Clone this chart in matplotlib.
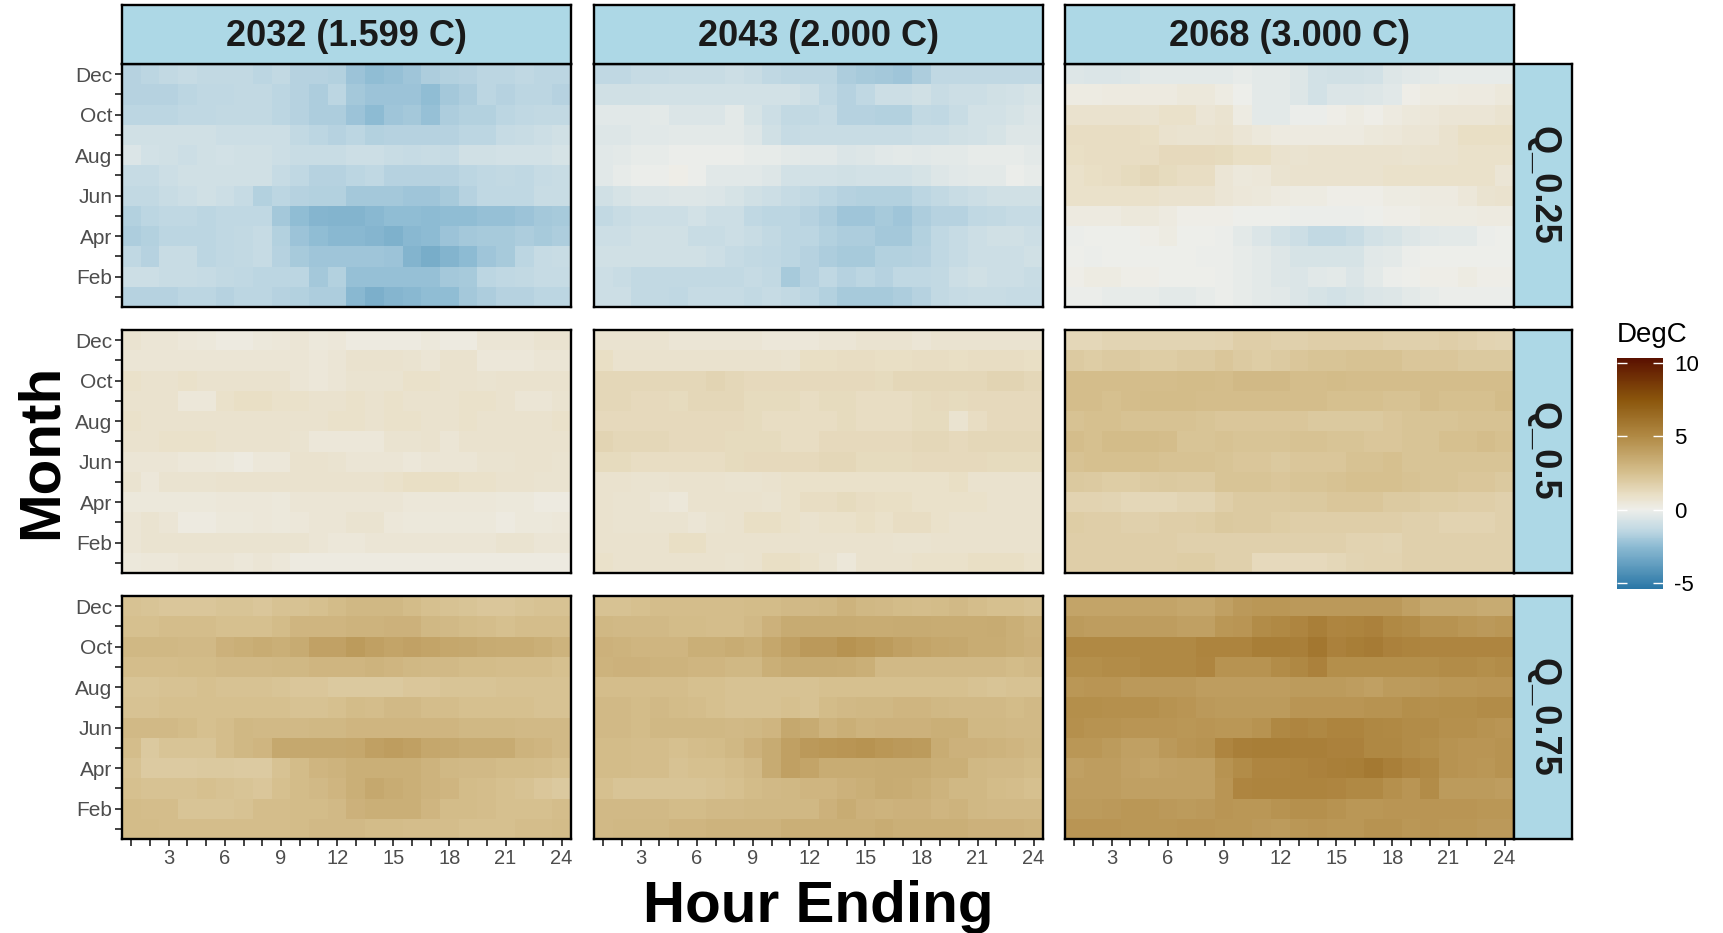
import matplotlib
matplotlib.use("Agg")
import matplotlib.pyplot as plt
import numpy as np
from matplotlib.colors import LinearSegmentedColormap, Normalize
from matplotlib.colorbar import ColorbarBase

plt.rcParams['font.family'] = ['Liberation Sans', 'DejaVu Sans']
plt.rcParams['axes.unicode_minus'] = False

# ---------------- data ----------------
years = ["2032 (1.599 C)", "2043 (2.000 C)", "2068 (3.000 C)"]
quantiles = ["Q_0.25", "Q_0.5", "Q_0.75"]
hours = list(range(1, 25))
months_top_down = [12, 11, 10, 9, 8, 7, 6, 5, 4, 3, 2, 1]
month_ticks = list(range(1, 13))
month_labels = ["", "Feb", "", "Apr", "", "Jun", "", "Aug", "", "Oct", "", "Dec"]
hour_labels = [str(h) if h % 3 == 0 else "" for h in hours]
cbar_ticks = [-5, 0, 5, 10]
cbar_limits = (-5.4, 10.35)

# rows: Dec ... Jan (top to bottom), columns: hour 1..24
q25_2032 = [
    [-1.6,-1.5,-1.3,-1.2,-1.3,-1.3,-1.3,-1.5,-1.3,-1.6,-1.6,-1.7,-2.2,-2.4,-2.3,-2.1,-1.8,-1.7,-1.6,-1.5,-1.5,-1.4,-1.5,-1.5],
    [-1.6,-1.6,-1.6,-1.5,-1.4,-1.4,-1.3,-1.3,-1.5,-1.6,-1.8,-1.5,-2.0,-2.2,-2.2,-2.2,-2.4,-2.0,-1.8,-1.5,-1.6,-1.5,-1.5,-1.6],
    [-1.5,-1.5,-1.5,-1.4,-1.4,-1.3,-1.3,-1.3,-1.5,-1.6,-1.8,-1.8,-2.2,-2.5,-2.1,-2.0,-2.3,-1.8,-1.7,-1.7,-1.5,-1.4,-1.3,-1.3],
    [-0.9,-0.9,-0.9,-0.9,-0.9,-1.0,-1.0,-1.0,-1.0,-1.3,-1.5,-1.6,-1.5,-1.7,-1.6,-1.6,-1.6,-1.6,-1.5,-1.5,-1.2,-1.1,-1.0,-0.9],
    [-0.6,-0.8,-0.9,-1.0,-0.9,-0.8,-0.9,-0.9,-1.0,-1.1,-1.1,-1.1,-1.0,-1.0,-1.1,-1.2,-1.1,-1.2,-0.9,-0.9,-0.8,-0.8,-0.8,-0.7],
    [-1.2,-1.2,-1.0,-0.9,-0.9,-0.9,-0.9,-0.9,-1.2,-1.4,-1.6,-1.6,-1.5,-1.4,-1.6,-1.6,-1.6,-1.6,-1.5,-1.4,-1.3,-1.4,-1.2,-1.1],
    [-1.3,-1.3,-1.1,-1.0,-0.9,-1.0,-1.2,-1.7,-1.5,-1.6,-1.7,-1.7,-2.0,-2.0,-2.0,-2.1,-2.1,-1.9,-1.6,-1.4,-1.4,-1.4,-1.1,-1.1],
    [-1.7,-1.5,-1.4,-1.4,-1.5,-1.4,-1.4,-1.4,-2.0,-2.4,-2.7,-2.8,-2.8,-2.6,-2.4,-2.4,-2.5,-2.4,-2.4,-2.3,-2.3,-2.2,-2.0,-1.9],
    [-1.8,-1.7,-1.5,-1.5,-1.5,-1.4,-1.3,-1.2,-1.7,-2.2,-2.4,-2.6,-2.6,-2.7,-2.9,-2.6,-2.5,-2.2,-2.0,-1.9,-1.9,-1.8,-1.9,-1.8],
    [-1.4,-1.6,-1.1,-1.1,-1.5,-1.4,-1.3,-1.2,-1.6,-1.9,-2.1,-2.1,-2.1,-2.1,-2.2,-2.8,-3.1,-2.8,-2.5,-2.1,-1.9,-1.5,-1.2,-1.1],
    [-1.0,-1.0,-1.1,-1.1,-1.2,-1.3,-1.4,-1.5,-1.5,-1.5,-2.0,-1.7,-2.3,-2.3,-2.3,-2.3,-2.3,-2.0,-1.9,-1.5,-1.4,-1.3,-1.2,-1.2],
    [-1.6,-1.6,-1.6,-1.5,-1.5,-1.6,-1.5,-1.5,-1.6,-1.7,-1.8,-1.8,-2.6,-3.0,-2.7,-2.6,-2.4,-2.4,-2.0,-1.8,-1.6,-1.6,-1.5,-1.5],
]
q25_2043 = [
    [-1.4,-1.4,-1.2,-1.2,-1.1,-1.1,-1.1,-1.0,-1.1,-1.4,-1.5,-1.5,-1.5,-1.8,-1.9,-2.0,-2.1,-1.8,-1.4,-1.4,-1.4,-1.4,-1.4,-1.4],
    [-0.9,-0.9,-0.9,-0.8,-0.8,-0.8,-0.8,-0.8,-0.8,-0.8,-0.8,-1.0,-1.4,-1.6,-1.4,-1.0,-1.0,-0.9,-1.1,-1.0,-1.0,-0.9,-0.8,-0.7],
    [-0.4,-0.4,-0.4,-0.3,-0.6,-0.6,-0.6,-0.3,-0.7,-1.0,-1.3,-1.3,-1.2,-1.6,-1.6,-1.7,-1.7,-1.3,-1.4,-1.1,-0.8,-0.8,-0.7,-0.6],
    [-0.5,-0.5,-0.4,-0.4,-0.3,-0.3,-0.3,-0.3,-0.5,-0.9,-1.2,-1.1,-1.1,-1.1,-1.1,-1.1,-1.1,-1.0,-1.0,-0.9,-0.8,-0.7,-0.5,-0.5],
    [-0.4,-0.3,-0.2,-0.2,-0.1,-0.1,-0.1,-0.1,-0.2,-0.2,-0.3,-0.4,-0.4,-0.6,-0.5,-0.4,-0.3,-0.4,-0.3,-0.3,-0.2,-0.2,-0.2,-0.3],
    [-0.4,-0.2,-0.1,-0.1,0.1,-0.1,-0.4,-0.4,-0.4,-0.5,-0.8,-0.8,-0.8,-0.9,-0.8,-0.8,-0.8,-0.7,-0.5,-0.4,-0.3,-0.3,-0.1,-0.2],
    [-0.9,-0.7,-0.6,-0.6,-0.5,-0.5,-0.6,-0.7,-0.9,-1.0,-1.2,-1.3,-1.5,-1.6,-1.7,-1.7,-1.7,-1.5,-1.3,-1.1,-1.0,-0.9,-0.9,-0.9],
    [-1.3,-1.1,-1.0,-1.0,-1.0,-0.8,-1.0,-1.0,-1.4,-1.5,-1.5,-1.6,-1.8,-2.1,-2.1,-1.9,-2.1,-1.8,-1.6,-1.6,-1.4,-1.3,-1.2,-1.2],
    [-1.0,-1.0,-0.9,-0.9,-0.9,-1.1,-1.1,-1.0,-1.1,-1.3,-1.5,-1.5,-1.7,-1.8,-1.8,-2.0,-2.0,-1.7,-1.4,-1.2,-1.0,-0.9,-0.9,-1.0],
    [-0.9,-0.9,-0.9,-0.9,-0.9,-0.9,-1.0,-1.2,-1.3,-1.4,-1.5,-1.6,-1.8,-1.9,-1.9,-1.7,-1.7,-1.6,-1.4,-1.2,-1.0,-1.0,-1.0,-0.9],
    [-1.0,-1.1,-1.3,-1.3,-1.3,-1.3,-1.3,-1.3,-1.2,-1.3,-1.9,-1.6,-1.4,-1.6,-1.5,-1.6,-1.4,-1.4,-1.3,-1.0,-0.9,-1.0,-1.0,-1.1],
    [-1.0,-1.0,-1.3,-1.3,-1.4,-1.2,-1.2,-1.2,-1.3,-1.2,-1.3,-1.5,-1.7,-1.9,-1.9,-1.9,-1.8,-1.6,-1.3,-1.2,-1.1,-1.1,-1.2,-1.2],
]
q25_2068 = [
    [-0.5,-0.6,-0.6,-0.5,-0.3,-0.3,-0.3,-0.3,-0.3,-0.2,-0.3,-0.3,-0.5,-0.8,-0.9,-0.9,-0.8,-0.5,-0.4,-0.3,-0.2,-0.2,-0.2,-0.2],
    [0.2,0.2,0.3,0.3,0.3,0.3,0.4,0.4,0.2,0.0,-0.3,-0.3,-0.5,-0.8,-0.6,-0.6,-0.5,-0.4,0.1,0.2,0.2,0.3,0.3,0.4],
    [0.8,0.8,0.8,0.8,0.7,0.9,0.9,0.6,0.7,0.2,-0.3,-0.3,-0.1,-0.1,0.1,0.2,0.1,0.3,0.4,0.5,0.6,0.6,0.6,0.7],
    [1.1,1.1,1.1,1.1,1.0,0.8,0.7,0.7,0.8,0.6,0.4,0.3,0.3,0.3,0.3,0.3,0.4,0.5,0.6,0.6,0.8,1.0,1.0,1.0],
    [1.0,1.1,1.1,1.1,1.1,1.3,1.3,1.3,1.2,1.0,1.0,0.8,0.7,0.8,0.8,0.8,0.8,0.8,0.7,0.8,0.8,0.9,0.9,0.9],
    [0.9,1.0,1.1,1.2,1.4,1.2,1.1,1.1,0.6,0.4,0.5,0.7,0.8,0.8,0.8,0.8,0.8,0.9,0.9,0.9,0.9,0.9,0.9,0.6],
    [0.9,0.9,0.9,0.9,0.9,0.8,0.8,0.8,0.6,0.5,0.4,0.3,0.2,0.2,0.1,0.1,0.1,0.2,0.2,0.3,0.3,0.5,0.7,0.8],
    [0.3,0.3,0.3,0.4,0.4,0.3,0.1,0.1,0.1,0.0,0.0,0.0,-0.1,-0.1,-0.1,-0.1,0.0,0.1,0.1,0.2,0.2,0.2,0.3,0.3],
    [-0.1,0.0,0.0,0.0,0.1,0.2,0.0,0.0,-0.1,-0.3,-0.6,-0.8,-1.0,-1.3,-1.3,-1.1,-0.8,-0.7,-0.5,-0.4,-0.3,-0.3,-0.1,0.0],
    [0.0,-0.1,0.0,0.0,0.0,0.0,0.0,-0.1,-0.1,-0.2,-0.3,-0.5,-0.7,-0.7,-0.7,-0.7,-0.4,-0.3,-0.1,0.0,0.0,0.0,0.0,0.0],
    [0.1,0.2,0.2,0.1,0.1,0.0,0.0,0.0,-0.1,-0.2,-0.3,-0.5,-0.6,-0.4,-0.3,-0.6,-0.3,-0.1,0.0,0.1,0.1,0.2,0.1,0.1],
    [-0.1,-0.1,-0.2,-0.2,-0.2,-0.3,-0.3,-0.2,-0.1,-0.2,-0.3,-0.4,-0.6,-0.7,-0.8,-0.7,-0.6,-0.5,-0.3,-0.2,-0.1,-0.1,-0.1,-0.1],
]
q50_2032 = [
    [0.7,0.6,0.6,0.5,0.4,0.3,0.3,0.4,0.5,0.6,0.4,0.5,0.3,0.3,0.3,0.3,0.4,0.3,0.3,0.6,0.6,0.6,0.7,0.7],
    [0.6,0.6,0.6,0.6,0.6,0.6,0.6,0.6,0.6,0.6,0.5,0.6,0.8,0.8,0.8,0.7,0.6,0.8,0.8,0.5,0.5,0.5,0.6,0.6],
    [0.9,0.8,0.8,0.9,0.8,0.8,0.8,0.8,0.8,0.6,0.5,0.6,0.7,0.7,0.7,0.9,0.9,0.8,0.8,0.7,0.8,0.8,0.8,0.8],
    [0.8,0.8,0.8,0.5,0.5,0.9,1.0,1.0,0.9,0.9,0.8,0.8,0.9,0.8,0.9,0.8,0.8,0.8,0.9,0.9,0.8,0.6,0.6,0.7],
    [0.9,0.8,0.8,0.8,0.8,0.8,0.8,0.8,0.8,0.8,0.8,0.9,0.9,0.8,0.9,0.9,0.8,0.8,0.9,0.8,0.8,0.8,0.8,0.9],
    [0.8,0.8,0.9,0.9,0.9,0.8,0.8,0.8,0.8,0.7,0.5,0.5,0.5,0.5,0.7,0.7,0.8,0.6,0.8,0.8,0.8,0.8,0.8,0.8],
    [0.6,0.6,0.6,0.5,0.5,0.4,0.3,0.5,0.5,0.8,0.8,0.7,0.6,0.6,0.6,0.5,0.6,0.6,0.6,0.7,0.7,0.8,0.8,0.7],
    [0.7,0.5,0.7,0.7,0.7,0.8,0.8,0.8,0.8,0.8,0.8,0.8,0.8,0.8,0.9,1.0,1.0,1.0,0.9,0.9,0.8,0.8,0.7,0.7],
    [0.4,0.4,0.4,0.4,0.4,0.5,0.5,0.5,0.4,0.6,0.6,0.6,0.6,0.6,0.6,0.5,0.5,0.5,0.5,0.5,0.4,0.4,0.3,0.3],
    [0.6,0.7,0.6,0.3,0.3,0.4,0.4,0.5,0.4,0.5,0.6,0.6,0.7,0.7,0.5,0.4,0.4,0.4,0.4,0.4,0.3,0.4,0.4,0.5],
    [0.6,0.7,0.7,0.7,0.7,0.7,0.7,0.7,0.7,0.7,0.6,0.5,0.5,0.6,0.6,0.6,0.6,0.6,0.6,0.6,0.7,0.7,0.6,0.6],
    [0.4,0.5,0.5,0.6,0.6,0.6,0.5,0.6,0.5,0.3,0.3,0.3,0.3,0.3,0.3,0.3,0.3,0.3,0.3,0.3,0.3,0.3,0.3,0.3],
]
q50_2043 = [
    [0.7,0.7,0.7,0.7,0.6,0.6,0.6,0.6,0.6,0.5,0.5,0.5,0.6,0.6,0.7,0.7,0.7,0.6,0.7,0.7,0.7,0.7,0.7,0.7],
    [1.0,0.8,0.8,0.8,0.8,0.8,0.8,0.8,0.8,0.8,0.7,1.0,1.0,1.1,1.1,1.0,1.0,1.1,1.1,1.0,1.1,1.1,1.1,1.0],
    [1.4,1.4,1.4,1.4,1.4,1.4,1.5,1.4,1.3,1.3,1.3,1.3,1.3,1.3,1.3,1.2,1.4,1.4,1.4,1.4,1.4,1.5,1.5,1.4],
    [1.4,1.4,1.3,1.3,1.2,1.4,1.4,1.4,1.2,1.2,1.2,1.1,1.2,1.2,1.1,1.1,1.1,1.2,1.3,1.2,1.3,1.3,1.3,1.3],
    [1.3,1.3,1.3,1.3,1.3,1.3,1.3,1.3,1.2,1.1,1.1,1.1,1.1,1.2,1.1,1.1,1.1,1.2,1.2,0.7,1.1,1.3,1.3,1.3],
    [1.5,1.4,1.4,1.4,1.3,1.3,1.3,1.2,1.2,1.2,1.1,1.1,1.3,1.3,1.3,1.3,1.3,1.4,1.4,1.3,1.4,1.4,1.4,1.4],
    [1.2,1.2,1.1,1.1,1.1,1.1,1.1,1.2,1.3,1.3,1.3,1.3,1.4,1.4,1.2,1.2,1.2,1.3,1.3,1.3,1.3,1.2,1.2,1.2],
    [0.8,0.8,0.7,0.7,0.8,0.8,0.8,0.7,0.7,0.8,0.9,0.9,0.9,0.9,0.9,0.9,0.9,0.9,0.9,1.0,0.8,0.8,0.8,0.8],
    [0.8,0.7,0.7,0.6,0.5,0.8,0.8,0.8,0.8,0.7,0.9,1.1,1.1,1.2,1.1,1.0,1.0,0.9,0.9,0.9,0.9,0.8,0.8,0.8],
    [0.8,0.7,0.7,0.7,0.7,0.6,0.7,0.8,1.0,1.0,0.9,0.8,0.9,0.9,1.0,0.9,1.1,1.1,0.9,0.8,0.8,0.8,0.8,0.8],
    [0.8,0.8,0.8,0.8,1.0,1.0,0.8,0.8,0.8,0.8,0.8,0.8,0.8,0.8,0.8,0.8,0.7,0.7,0.8,0.8,0.8,0.8,0.8,0.8],
    [0.9,0.8,0.8,0.8,0.8,0.8,0.8,0.7,0.8,1.0,1.0,0.9,0.7,0.5,0.8,0.8,0.8,0.9,0.9,0.9,1.0,1.0,1.0,0.9],
]
q50_2068 = [
    [1.4,1.4,1.5,1.5,1.5,1.5,1.5,1.5,1.6,1.8,1.8,1.7,1.7,1.8,1.8,1.8,1.8,1.7,1.7,1.7,1.8,1.7,1.6,1.5],
    [2.0,1.9,2.0,2.0,1.9,1.9,2.0,2.0,2.2,2.0,1.9,2.0,2.2,2.3,2.3,2.4,2.4,2.4,2.2,2.2,2.2,2.1,2.1,2.1],
    [2.6,2.6,2.6,2.6,2.6,2.6,2.7,2.7,2.6,2.8,2.8,2.8,2.6,2.6,2.7,2.6,2.6,2.6,2.6,2.6,2.6,2.6,2.6,2.6],
    [2.6,2.6,2.5,2.6,2.7,2.7,2.7,2.6,2.6,2.6,2.6,2.6,2.6,2.6,2.5,2.5,2.5,2.4,2.4,2.6,2.5,2.5,2.5,2.7],
    [2.4,2.5,2.5,2.4,2.4,2.4,2.4,2.3,2.2,2.2,2.2,2.2,2.2,2.1,2.1,2.1,2.1,2.2,2.3,2.3,2.3,2.4,2.4,2.4],
    [2.6,2.5,2.7,2.7,2.7,2.6,2.3,2.3,2.4,2.3,2.3,2.3,2.4,2.4,2.3,2.3,2.2,2.2,2.3,2.3,2.5,2.5,2.6,2.5],
    [2.4,2.5,2.5,2.5,2.5,2.4,2.4,2.4,2.3,2.2,2.2,2.1,2.2,2.2,2.2,2.4,2.4,2.5,2.3,2.3,2.3,2.3,2.3,2.3],
    [2.1,2.0,1.9,1.9,2.0,2.1,2.0,2.0,2.3,2.3,2.3,2.2,2.3,2.3,2.4,2.5,2.5,2.5,2.4,2.3,2.3,2.2,2.2,2.1],
    [1.6,1.6,1.5,1.4,1.4,1.4,1.5,1.5,1.8,2.0,2.0,2.0,2.1,2.1,2.2,2.2,2.2,2.0,2.0,1.9,1.9,1.8,1.8,1.7],
    [1.9,1.8,1.8,1.7,1.7,1.8,1.8,1.9,2.1,2.0,2.0,1.9,1.8,1.8,1.8,1.8,1.8,1.8,1.7,1.7,1.6,1.6,1.6,1.7],
    [1.8,1.8,1.8,1.8,1.8,1.8,1.7,1.7,1.7,1.7,1.7,1.7,1.7,1.7,1.7,1.6,1.6,1.5,1.7,1.7,1.7,1.7,1.7,1.7],
    [1.8,1.8,1.8,1.8,1.8,1.8,1.9,1.9,1.7,1.7,1.3,1.3,1.3,1.3,1.4,1.5,1.6,1.6,1.7,1.7,1.7,1.7,1.7,1.7],
]
q75_2032 = [
    [2.4,2.3,2.2,2.2,2.2,2.3,2.3,2.2,2.4,2.4,2.5,2.7,2.9,2.9,2.9,2.7,2.5,2.4,2.3,2.2,2.2,2.3,2.4,2.4],
    [2.5,2.5,2.6,2.6,2.6,2.5,2.5,2.5,2.7,3.0,3.0,3.0,3.1,3.1,3.2,3.2,2.9,2.8,2.7,2.6,2.5,2.6,2.6,2.6],
    [2.9,2.9,2.9,2.8,2.8,3.2,3.3,3.4,3.3,3.5,3.9,3.9,4.2,4.0,3.8,3.9,3.8,3.7,3.6,3.5,3.4,3.4,3.3,3.1],
    [2.6,2.6,2.6,2.7,2.7,2.8,2.8,2.8,2.9,2.9,3.0,3.0,3.0,3.1,3.0,2.9,2.8,2.8,2.7,2.7,2.6,2.6,2.6,2.5],
    [2.3,2.3,2.4,2.4,2.5,2.4,2.4,2.4,2.3,2.2,2.2,2.1,2.1,2.1,2.1,2.2,2.2,2.3,2.3,2.3,2.4,2.4,2.4,2.4],
    [2.4,2.4,2.5,2.5,2.5,2.5,2.5,2.5,2.5,2.4,2.4,2.5,2.7,2.6,2.8,2.8,2.6,2.6,2.5,2.5,2.5,2.5,2.4,2.4],
    [2.8,2.8,2.8,2.7,2.5,2.6,2.9,2.8,2.8,2.8,2.9,2.9,3.0,3.0,3.0,3.0,3.0,3.0,2.9,2.9,2.9,2.8,2.8,2.8],
    [2.6,2.1,2.3,2.3,2.3,2.6,2.9,3.0,3.6,3.6,3.6,3.6,3.7,4.0,4.1,4.0,3.7,3.6,3.5,3.5,3.5,3.1,3.0,2.8],
    [2.4,2.0,2.0,2.0,2.1,2.1,2.0,2.0,2.4,2.7,3.0,3.1,3.3,3.3,3.3,3.3,3.1,2.9,2.8,2.8,2.7,2.7,2.6,2.5],
    [2.5,2.4,2.4,2.4,2.5,2.4,2.3,2.2,2.5,2.7,2.8,3.0,3.3,3.6,3.4,3.3,3.1,3.0,2.7,2.6,2.5,2.4,2.2,2.1],
    [2.7,2.6,2.6,2.3,2.3,2.3,2.4,2.6,2.6,2.7,2.7,2.8,3.2,3.3,3.3,3.3,3.0,2.7,2.7,2.6,2.5,2.5,2.5,2.6],
    [2.7,2.7,2.6,2.6,2.6,2.6,2.6,2.6,2.6,2.7,2.8,2.8,2.8,2.7,2.7,2.6,2.6,2.6,2.5,2.5,2.5,2.6,2.6,2.7],
]
q75_2043 = [
    [2.4,2.4,2.5,2.6,2.6,2.6,2.6,2.6,2.7,2.7,2.8,2.8,2.9,3.1,2.9,2.8,2.7,2.6,2.7,2.8,2.6,2.5,2.5,2.4],
    [2.9,2.8,2.8,2.8,2.7,2.7,2.6,2.6,2.8,3.2,3.5,3.5,3.5,3.5,3.4,3.4,3.5,3.5,3.4,3.4,3.4,3.5,3.3,3.1],
    [3.2,3.1,3.0,3.0,3.0,3.3,3.3,3.4,3.3,3.7,4.0,4.3,4.3,4.6,4.4,4.2,4.0,3.8,3.7,3.6,3.4,3.4,3.3,3.2],
    [3.1,3.2,3.2,3.1,3.1,3.0,3.0,2.9,2.9,3.3,3.5,3.5,3.5,3.4,3.3,2.8,2.8,2.8,2.8,2.8,2.8,2.8,2.7,2.8],
    [2.6,2.6,2.6,2.6,2.6,2.5,2.5,2.4,2.4,2.4,2.4,2.4,2.5,2.5,2.5,2.5,2.5,2.5,2.5,2.5,2.4,2.3,2.4,2.4],
    [2.8,2.8,2.7,2.8,2.7,2.6,2.5,2.4,2.4,2.4,2.5,2.4,2.7,2.8,2.9,2.9,3.0,3.0,2.9,2.8,2.8,2.8,2.7,2.8],
    [2.8,2.8,2.7,2.9,2.9,2.9,2.9,2.8,2.9,3.0,3.6,3.5,3.1,3.3,3.1,3.2,3.2,3.2,3.3,3.3,2.9,2.9,2.8,2.8],
    [2.7,2.7,2.6,2.6,2.5,2.6,2.7,2.9,3.2,3.5,4.0,4.3,4.4,4.5,4.6,4.4,4.3,4.2,3.4,3.2,3.2,3.1,3.0,2.9],
    [2.7,2.7,2.6,2.6,2.4,2.5,2.5,2.6,2.8,3.5,4.0,3.8,3.4,3.4,3.4,3.5,3.5,3.5,3.3,3.3,2.9,2.8,2.8,2.7],
    [2.5,2.3,2.3,2.3,2.3,2.3,2.4,2.5,2.7,2.8,2.9,3.0,3.0,3.2,3.3,3.5,3.4,3.3,3.1,2.9,2.9,2.7,2.6,2.5],
    [2.8,2.8,2.8,2.8,2.7,2.7,2.8,2.8,2.9,2.9,2.9,2.9,3.2,3.4,3.2,3.1,3.2,3.2,3.0,3.1,2.9,2.8,2.8,2.8],
    [2.8,2.9,2.9,2.9,3.0,3.0,3.1,3.1,3.1,3.1,3.3,3.3,3.3,3.3,3.3,3.4,3.3,3.3,3.3,3.3,3.2,3.2,3.2,3.1],
]
q75_2068 = [
    [3.8,3.8,3.8,3.8,3.8,3.8,3.7,3.7,4.0,4.3,4.4,4.4,4.3,4.3,4.3,4.3,4.3,4.3,4.0,3.6,3.6,3.6,3.5,3.5],
    [4.2,4.1,4.1,4.1,4.1,4.1,4.0,4.0,4.4,4.5,4.9,5.0,5.2,5.5,5.2,5.3,5.4,5.0,4.9,4.6,4.6,4.4,4.3,4.4],
    [5.0,5.0,5.0,5.0,5.0,5.0,5.0,5.3,5.3,5.3,5.6,5.6,5.5,5.9,5.4,5.6,5.7,5.4,5.3,5.2,5.2,5.2,5.2,5.2],
    [4.8,4.8,4.9,4.9,5.0,5.0,5.0,5.2,4.6,4.6,4.6,4.9,5.1,5.4,4.8,4.8,4.8,4.8,4.8,4.8,4.9,4.9,4.8,4.9],
    [4.4,4.5,4.5,4.3,4.3,4.3,4.3,4.1,4.1,4.1,4.1,4.1,4.2,4.2,4.2,4.1,4.0,4.2,4.2,4.3,4.4,4.4,4.5,4.5],
    [4.8,4.8,4.7,4.7,4.7,4.6,4.5,4.3,4.2,4.2,4.2,4.2,4.5,4.5,4.5,4.5,4.6,4.6,4.8,4.7,4.8,4.8,4.9,4.9],
    [4.7,4.6,4.6,4.5,4.5,4.5,4.4,4.5,4.4,4.4,4.6,5.1,5.2,5.1,5.3,5.3,5.1,5.0,4.9,4.9,4.7,4.7,4.6,4.5],
    [4.4,4.4,4.2,4.0,4.0,4.3,4.5,4.6,5.2,5.5,5.6,5.6,5.5,5.5,5.4,5.4,5.1,5.1,4.9,4.8,4.6,4.5,4.5,4.6],
    [4.0,4.1,4.1,3.9,3.8,3.9,4.0,4.0,4.6,4.9,5.2,5.2,5.3,5.4,5.5,5.6,5.8,5.5,5.2,5.0,4.6,4.5,4.4,4.6],
    [4.1,4.1,4.1,4.0,4.0,4.0,4.0,4.0,4.5,5.2,5.3,5.3,5.3,5.3,5.2,5.0,5.0,4.7,4.5,4.9,4.2,4.2,4.2,4.1],
    [4.2,4.2,4.3,4.4,4.4,4.3,4.2,4.3,4.5,4.4,4.4,4.6,4.7,4.7,4.6,4.4,4.4,4.5,4.5,4.5,4.5,4.5,4.4,4.4],
    [4.5,4.5,4.5,4.4,4.4,4.4,4.5,4.5,4.4,4.4,4.3,4.2,4.4,4.5,4.4,4.4,4.6,4.6,4.4,4.5,4.4,4.4,4.3,4.3],
]

grid = [
    [q25_2032, q25_2043, q25_2068],
    [q50_2032, q50_2043, q50_2068],
    [q75_2032, q75_2043, q75_2068],
]

# ---------------- colours ----------------
anchor_vals = [-5.4, -2.5, -1.5, 0.0, 1.0, 2.5, 5.0, 7.5, 10.35]
anchor_cols = ["#2a77a6", "#8dbbd3", "#bcd6e2", "#eeeeea", "#e9dfc6", "#d6c08f",
               "#b18a45", "#8b560c", "#5a1000"]
vmin, vmax = cbar_limits
cmap = LinearSegmentedColormap.from_list(
    "degc", [((v - vmin) / (vmax - vmin), c) for v, c in zip(anchor_vals, anchor_cols)])
norm = Normalize(vmin=vmin, vmax=vmax)

# ---------------- layout (pixels) ----------------
W, H = 1724, 933
fig = plt.figure(figsize=(W / 100, H / 100), dpi=100)

def fbox(x0, y0, x1, y1):
    return [x0 / W, 1 - y1 / H, (x1 - x0) / W, (y1 - y0) / H]

col_x = [(122, 571), (594, 1043), (1065, 1514)]
row_y = [(64, 307), (330, 573), (596, 839)]
strip_top = (5, 64)
strip_right = (1514, 1572)

tick_col = "#333333"
lab_col = "#4d4d4d"
edge_lw = 1.7

hours_arr = np.array(hours)
months_arr = np.array(months_top_down)

for r in range(3):
    for c in range(3):
        ax = fig.add_axes(fbox(col_x[c][0], row_y[r][0], col_x[c][1], row_y[r][1]))
        z = np.array(grid[r][c])
        ax.pcolormesh(hours_arr, months_arr, z, cmap=cmap, norm=norm, shading="nearest")
        ax.set_xlim(0.5, 24.5)
        ax.set_ylim(0.5, 12.5)
        for s in ax.spines.values():
            s.set_linewidth(edge_lw)
            s.set_color("black")
        ax.set_xticks(hours)
        ax.set_yticks(month_ticks)
        if r == 2:
            ax.set_xticklabels(hour_labels, fontsize=14.5, color=lab_col)
            ax.tick_params(axis="x", length=5, width=1.3, color=tick_col, pad=2)
        else:
            ax.tick_params(axis="x", bottom=False, labelbottom=False)
        if c == 0:
            ax.set_yticklabels(month_labels, fontsize=15, color=lab_col)
            ax.tick_params(axis="y", length=5, width=1.3, color=tick_col, pad=2)
        else:
            ax.tick_params(axis="y", left=False, labelleft=False)

# strips on top
for c in range(3):
    sax = fig.add_axes(fbox(col_x[c][0], strip_top[0], col_x[c][1], strip_top[1]))
    sax.set_facecolor("#add8e6")
    sax.set_xticks([]); sax.set_yticks([])
    for s in sax.spines.values():
        s.set_linewidth(edge_lw); s.set_color("black")
    sax.text(0.5, 0.47, years[c], ha="center", va="center", fontsize=26,
             fontweight="bold", color="#1a1a1a", transform=sax.transAxes)

# strips on right
for r in range(3):
    sax = fig.add_axes(fbox(strip_right[0], row_y[r][0], strip_right[1], row_y[r][1]))
    sax.set_facecolor("#add8e6")
    sax.set_xticks([]); sax.set_yticks([])
    for s in sax.spines.values():
        s.set_linewidth(edge_lw); s.set_color("black")
    sax.text(0.5, 0.5, quantiles[r], ha="center", va="center", fontsize=26,
             fontweight="bold", color="#1a1a1a", rotation=270, transform=sax.transAxes)

# axis titles
fig.text(42 / W, 1 - 451 / H, "Month", rotation=90, ha="center", va="center",
         fontsize=42, fontweight="bold", color="black")
fig.text(818 / W, 1 - 922 / H, "Hour Ending", ha="center", va="baseline",
         fontsize=42, fontweight="bold", color="black")

# colorbar
cax = fig.add_axes(fbox(1617, 358, 1663, 589))
cb = ColorbarBase(cax, cmap=cmap, norm=norm, ticks=cbar_ticks, orientation="vertical")
cb.outline.set_visible(False)
cax.tick_params(which="major", direction="in", color="white", length=7, width=1,
                left=True, right=True, labelleft=False, labelright=True,
                labelsize=16, labelcolor="black", pad=8)
cax.tick_params(which="minor", left=False, right=False)
fig.text(1617 / W, 1 - 342 / H, "DegC", ha="left", va="baseline", fontsize=20, color="black")

fig.savefig("out.png", dpi=100, facecolor="white")
